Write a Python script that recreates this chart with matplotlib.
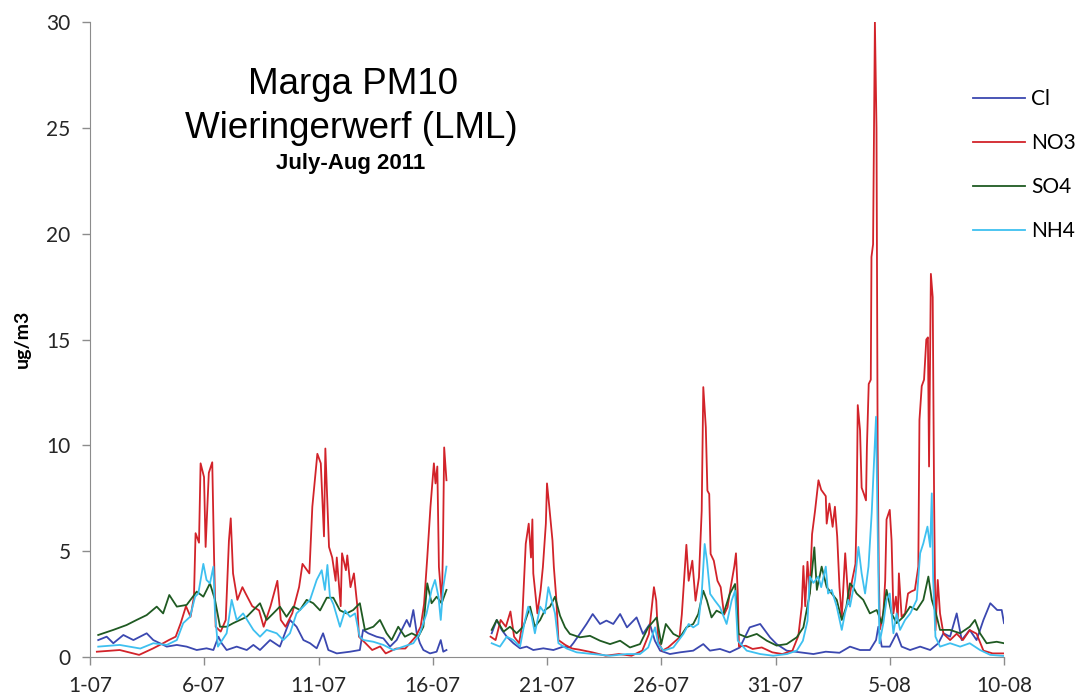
import numpy as np
import matplotlib
matplotlib.use("Agg")
import matplotlib.pyplot as plt

# days since 1 July 2011, nan marks the gap in the record
no3_t = [0.3, 1.3, 2.15, 2.75, 3.2, 3.45, 3.75, 3.97, 4.2, 4.4, 4.55, 4.62, 4.77, 4.84, 4.99, 5.06, 5.2, 5.35,
         5.43, 5.5, 5.72, 5.94, 6.08, 6.16, 6.26, 6.45, 6.67, 6.81, 7.1, 7.4, 7.6, 7.9, 8.2, 8.35, 8.56, 8.85,
         9.15, 9.3, 9.6, 9.73, 9.95, 10.1, 10.24, 10.3, 10.46, 10.6, 10.75, 10.8, 10.97, 11.03, 11.2, 11.26,
         11.4, 11.55, 11.7, 11.77, 12.06, 12.35, 12.7, 12.94, 13.4, 13.8, 14.25, 14.47, 14.62, 14.76, 14.9,
         15.05, 15.12, 15.2, 15.27, 15.4, 15.45, 15.5, 15.6, 16.5,
         17.53, 17.75, 17.97, 18.2, 18.4, 18.56, 18.78, 18.9, 19.07, 19.2, 19.3, 19.36, 19.4, 19.58, 19.72,
         19.82, 19.95, 20.0, 20.1, 20.24, 20.3, 20.4, 20.5, 20.8, 21.1, 21.4, 21.98, 22.57, 23.15, 23.7, 24.17,
         24.46, 24.6, 24.68, 24.78, 24.87, 25.05, 25.3, 25.8, 25.9, 26.1, 26.2, 26.36, 26.5, 26.65, 26.77,
         26.84, 26.95, 27.02, 27.1, 27.16, 27.3, 27.46, 27.6, 27.75, 27.9, 28.04, 28.2, 28.27, 28.35, 28.4,
         28.7, 29.0, 29.4, 29.86, 30.3, 30.74, 31.0, 31.15, 31.22, 31.3, 31.4, 31.5, 31.6, 31.73, 31.88, 32.0,
         32.2, 32.24, 32.36, 32.5, 32.6, 32.7, 32.8, 32.9, 33.05, 33.2, 33.35, 33.5, 33.55, 33.6, 33.7, 33.77,
         33.87, 33.96, 34.0, 34.08, 34.17, 34.2, 34.27, 34.35, 34.42, 34.47, 34.52, 34.57, 34.72, 34.8, 34.86,
         35.0, 35.08, 35.16, 35.27, 35.35, 35.4, 35.52, 35.67, 35.8, 35.95, 36.1, 36.25, 36.3, 36.4, 36.5,
         36.6, 36.67, 36.72, 36.8, 36.88, 36.94, 37.0, 37.1, 37.2, 37.35, 37.64, 37.93, 38.2, 38.5, 38.8,
         39.1, 39.5, 40.0]
no3_v = [0.25, 0.33, 0.1, 0.4, 0.65, 0.8, 0.96, 1.6, 2.4, 1.9, 2.85, 5.85, 5.4, 9.15, 8.5, 5.2, 8.7, 9.2,
         4.7, 1.43, 1.2, 1.75, 5.5, 6.55, 3.95, 2.7, 3.3, 3.0, 2.4, 2.2, 1.43, 2.4, 3.6, 1.75, 1.43, 2.06,
         3.3, 4.4, 3.95, 7.1, 9.6, 9.15, 5.7, 9.85, 5.2, 4.7, 3.6, 4.7, 2.4, 4.9, 4.1, 4.8,
         3.3, 3.95, 2.4, 0.96, 0.65, 0.33, 0.5, 0.17, 0.4, 0.4, 0.96, 1.43, 2.5, 4.7, 7.1,
         9.15, 8.2, 9.0, 4.25, 2.5, 5.5, 9.9, 8.35, np.nan,
         0.96, 0.8, 1.75, 1.43, 2.15, 0.96, 0.65, 1.43, 5.35, 6.3, 4.7, 6.5, 3.95, 2.06, 3.15,
         4.25, 6.3, 8.2, 7.1, 5.5, 4.25, 2.85, 0.8, 0.57, 0.4, 0.35, 0.22, 0.06, 0.14, 0.06, 0.3,
         1.08, 2.5, 3.3, 2.66, 0.77, 0.3, 0.45, 0.93, 2.0, 5.3, 3.6, 4.55, 2.66, 3.76, 6.9,
         12.75, 10.85, 7.86, 7.7, 4.87, 4.55, 3.6, 3.3, 2.0, 2.35, 3.3, 4.3, 4.9, 3.0, 0.5,
         0.53, 0.38, 0.45, 0.22, 0.14, 0.3, 1.0, 2.4, 4.3, 2.4, 4.5, 3.0, 5.8, 6.9, 8.35, 7.9,
         7.6, 6.3, 7.25, 6.15, 7.1, 5.7, 3.3, 1.9, 4.9, 2.5, 3.6, 4.4, 6.8, 11.9, 10.7, 8.0,
         7.7, 7.4, 9.9, 12.9, 13.1, 18.9, 19.5, 30.0, 25.0, 10.0, 4.0, 1.3, 2.06, 3.6, 6.5,
         6.95, 5.5, 2.06, 2.85, 1.73, 3.95, 1.9, 2.06, 3.0, 3.1, 3.17, 4.27, 11.2, 12.8, 13.1,
         15.0, 15.1, 9.0, 18.1, 17.0, 7.6, 1.26, 3.64, 2.06, 1.1, 0.8, 1.1, 0.8, 1.27, 1.1,
         0.3, 0.17, 0.17]

nh4_t = [0.36, 1.3, 2.2, 2.77, 3.36, 3.8, 4.08, 4.38, 4.6, 4.74, 4.96, 5.1, 5.25, 5.4, 5.47, 5.6, 5.98, 6.2,
         6.42, 6.7, 7.15, 7.44, 7.73, 8.17, 8.46, 8.75, 9.04, 9.34, 9.63, 9.92, 10.14, 10.28, 10.39, 10.5,
         10.65, 10.94, 11.16, 11.38, 11.6, 11.8, 11.97, 12.4, 12.84, 13.28, 13.71, 14.15, 14.44, 14.73, 14.95,
         15.1, 15.25, 15.35, 15.46, 15.6, 16.5,
         17.58, 17.94, 18.24, 18.53, 18.82, 19.04, 19.18, 19.33, 19.47, 19.7, 19.91, 20.06, 20.2, 20.35, 20.5,
         20.86, 21.3, 22.0, 22.76, 23.5, 24.07, 24.43, 24.73, 24.87, 25.1, 25.53, 25.97, 26.2, 26.4, 26.62,
         26.77, 26.9, 27.0, 27.14, 27.35, 27.57, 27.86, 28.08, 28.23, 28.35, 28.74, 29.33, 29.9, 30.5, 30.93,
         31.2, 31.4, 31.5, 31.66, 31.87, 32.0, 32.2, 32.3, 32.46, 32.68, 32.9, 33.04, 33.19, 33.26, 33.48,
         33.63, 33.77, 33.92, 34.07, 34.21, 34.31, 34.4, 34.46, 34.55, 34.72, 34.86, 35.0, 35.16, 35.3, 35.45,
         35.67, 35.9, 36.18, 36.33, 36.47, 36.65, 36.77, 36.84, 36.9, 37.0, 37.2, 37.64, 38.08, 38.5, 38.95,
         39.4, 40.0]
nh4_v = [0.49, 0.57, 0.4, 0.65, 0.57, 0.8, 1.6, 1.9, 2.85, 3.0, 4.4, 3.64, 3.48, 4.27, 2.06, 0.49, 1.12, 2.7,
         1.75, 2.06, 1.28, 0.96, 1.28, 1.12, 0.8, 1.12, 2.06, 2.38, 2.7, 3.64, 4.1, 3.17, 4.35, 2.85,
         2.5, 1.43, 2.2, 1.9, 2.06, 0.96, 0.8, 0.72, 0.57, 0.33, 0.49, 0.65, 1.12, 2.06, 3.17,
         3.64, 2.85, 1.75, 3.3, 4.27, np.nan,
         0.65, 0.49, 0.96, 0.8, 0.49, 1.75, 2.38, 1.9, 1.12, 2.38, 2.06, 3.3, 2.7, 2.06, 0.65,
         0.4, 0.22, 0.14, 0.06, 0.14, 0.14, 0.45, 1.4, 0.61, 0.3, 0.45, 1.09, 1.56, 1.4, 1.56,
         2.98, 5.34, 4.55, 2.98, 2.66, 2.35, 1.56, 2.66, 3.13, 0.77, 0.3, 0.14, 0.06, 0.14, 0.3,
         0.77, 1.7, 3.8, 3.5, 3.8, 3.3, 4.27, 3.0, 3.17, 2.38, 1.28, 2.06, 2.7, 2.38, 3.64,
         5.2, 3.95, 3.0, 4.27, 6.8, 9.15, 11.35, 6.8, 0.65, 1.6, 2.7, 3.0, 1.12, 2.06, 1.28,
         1.75, 2.06, 2.7, 4.9, 5.37, 6.16, 5.2, 7.73, 3.64, 0.96, 0.49, 0.65, 0.49, 0.65, 0.33,
         0.1, 0.05]

so4_t = [0.36, 1.02, 1.6, 2.04, 2.48, 2.92, 3.2, 3.47, 3.8, 4.23, 4.67, 4.96, 5.25, 5.47, 5.69, 5.98, 6.27,
         6.56, 6.86, 7.15, 7.44, 7.73, 8.02, 8.31, 8.6, 8.9, 9.19, 9.48, 9.77, 10.07, 10.36, 10.65, 10.94,
         11.23, 11.52, 11.81, 12.03, 12.4, 12.69, 12.98, 13.2, 13.49, 13.78, 14.08, 14.37, 14.59, 14.76,
         14.95, 15.17, 15.39, 15.6, 16.5,
         17.58, 17.8, 18.1, 18.38, 18.67, 18.96, 19.26, 19.47, 19.7, 19.91, 20.13, 20.35, 20.57, 20.79, 21.0,
         21.44, 21.88, 22.32, 22.76, 23.2, 23.63, 24.07, 24.43, 24.8, 25.0, 25.2, 25.53, 25.82, 26.1, 26.4,
         26.62, 26.84, 27.0, 27.2, 27.42, 27.72, 28.0, 28.23, 28.38, 28.74, 29.18, 29.62, 30.05, 30.49, 30.93,
         31.22, 31.5, 31.7, 31.81, 32.02, 32.24, 32.46, 32.68, 32.9, 33.1, 33.26, 33.4, 33.55, 33.84, 34.13,
         34.43, 34.65, 34.86, 35.08, 35.3, 35.6, 35.89, 36.18, 36.47, 36.69, 36.84, 37.02, 37.2, 37.64, 38.08,
         38.5, 38.73, 38.95, 39.24, 39.68, 40.0]
so4_v = [1.04, 1.28, 1.51, 1.75, 1.98, 2.38, 2.06, 2.93, 2.38, 2.46, 3.09, 2.85, 3.48, 2.7, 1.43, 1.43, 1.6,
         1.75, 1.9, 2.22, 2.54, 1.75, 2.06, 2.38, 1.9, 2.38, 2.22, 2.7, 2.54, 2.2, 2.8, 2.8, 2.2,
         2.06, 2.22, 2.54, 1.28, 1.43, 1.75, 1.12, 0.8, 1.43, 0.96, 1.12, 0.96, 1.43, 3.48,
         2.54, 2.85, 2.54, 3.17, np.nan,
         1.28, 1.75, 1.2, 1.43, 1.12, 1.43, 2.38, 1.43, 1.75, 2.22, 2.38, 2.85, 1.95, 1.4, 1.09,
         0.93, 1.0, 0.77, 0.61, 0.77, 0.45, 0.61, 1.4, 1.87, 0.61, 1.56, 1.09, 0.93, 1.4, 1.56,
         2.03, 3.13, 2.66, 1.87, 2.19, 2.03, 2.98, 3.45, 1.09, 0.93, 1.09, 0.77, 0.54, 0.61, 0.93,
         1.4, 2.98, 5.18, 3.17, 4.27, 3.3, 3.0, 2.7, 1.75, 2.38, 3.48, 3.3, 3.0, 2.7, 2.06,
         2.22, 1.6, 3.17, 2.06, 1.6, 1.9, 2.38, 2.22, 2.7, 3.8, 2.7, 2.06, 1.28, 1.28, 1.12,
         1.43, 1.75, 1.12, 0.65, 0.72, 0.65]

cl_t = [0.36, 0.73, 1.02, 1.46, 1.9, 2.48, 2.77, 3.06, 3.36, 3.8, 4.23, 4.67, 5.1, 5.4, 5.62, 5.76, 5.98, 6.42,
        6.86, 7.15, 7.44, 7.88, 8.31, 8.75, 9.04, 9.34, 9.63, 9.92, 10.2, 10.43, 10.8, 11.38, 11.81, 11.95,
        12.18, 12.54, 12.84, 13.13, 13.42, 13.71, 13.86, 14.0, 14.15, 14.3, 14.44, 14.59, 14.88, 15.17, 15.35,
        15.46, 15.6, 16.5,
        17.58, 17.8, 18.02, 18.24, 18.53, 18.82, 19.11, 19.4, 19.84, 20.28, 20.71, 21.0, 21.15, 21.44, 21.73,
        22.0, 22.32, 22.6, 22.9, 23.2, 23.5, 23.92, 24.2, 24.5, 24.72, 24.95, 25.38, 25.82, 26.4, 26.84,
        27.13, 27.57, 28.0, 28.44, 28.87, 29.33, 29.76, 30.05, 30.49, 31.08, 31.66, 32.2, 32.8, 33.26, 33.7,
        34.13, 34.4, 34.5, 34.65, 35.0, 35.3, 35.52, 35.89, 36.33, 36.77, 37.13, 37.35, 37.64, 37.93, 38.15,
        38.5, 38.8, 39.1, 39.4, 39.7, 39.9, 40.0]
cl_v = [0.8, 0.96, 0.65, 1.04, 0.8, 1.12, 0.8, 0.65, 0.49, 0.57, 0.49, 0.33, 0.41, 0.33, 0.96, 0.65, 0.33, 0.49,
        0.33, 0.57, 0.33, 0.8, 0.49, 1.75, 1.43, 0.8, 0.65, 0.41, 1.12, 0.33, 0.17, 0.25, 0.33, 1.28,
        1.12, 0.96, 0.88, 0.49, 0.8, 1.43, 1.75, 1.43, 2.22, 1.12, 0.65, 0.33, 0.17, 0.25, 0.8,
        0.25, 0.33, np.nan,
        1.12, 1.75, 1.28, 0.96, 0.65, 0.41, 0.49, 0.33, 0.41, 0.33, 0.49, 0.45, 0.65, 1.1, 1.56,
        2.03, 1.56, 1.72, 1.56, 2.03, 1.4, 1.87, 1.09, 1.56, 0.77, 0.3, 0.14, 0.22, 0.3, 0.61,
        0.3, 0.38, 0.22, 0.45, 1.4, 1.56, 0.93, 0.61, 0.3, 0.22, 0.14, 0.25, 0.2, 0.49, 0.33,
        0.33, 0.8, 1.43, 0.49, 0.49, 1.12, 0.49, 0.33, 0.49, 0.33, 0.65, 1.12, 0.96, 2.06, 0.8,
        1.28, 0.8, 1.75, 2.54, 2.22, 2.22, 1.6]

tick_days = [0, 5, 10, 15, 20, 25, 30, 35, 40]
tick_labels = ["1-07", "6-07", "11-07", "16-07", "21-07", "26-07", "31-07", "5-08", "10-08"]

fig = plt.figure(figsize=(10.8, 6.97), dpi=100)
ax = fig.add_axes([90 / 1080, 40 / 697, 914 / 1080, 635 / 697])

ax.plot(cl_t, cl_v, color="#3b48b0", lw=1.3, label="Cl")
ax.plot(no3_t, no3_v, color="#d2232a", lw=1.3, label="NO3")
ax.plot(so4_t, so4_v, color="#1f5a22", lw=1.3, label="SO4")
ax.plot(nh4_t, nh4_v, color="#3ec0f0", lw=1.3, label="NH4")

ax.set_xlim(0, 40)
ax.set_ylim(0, 30)
ax.set_xticks(tick_days)
ax.set_xticklabels(tick_labels)
ax.set_yticks(range(0, 31, 5))
for s in ["top", "right"]:
    ax.spines[s].set_visible(False)
for s in ["left", "bottom"]:
    ax.spines[s].set_color("#8c8c8c")
ax.tick_params(colors="#8c8c8c", length=6, width=1, labelcolor="#262626", labelsize=15, pad=8)
for lab in ax.get_xticklabels() + ax.get_yticklabels():
    lab.set_family("Lato")

fig.text(22 / 1080, 1 - 339 / 697, "ug/m3", rotation=90, ha="center", va="center",
         fontsize=14, fontweight="bold", family="Lato")

fig.text(353 / 1080, 1 - 84 / 697, "Marga PM10", ha="center", va="center",
         fontsize=26.5, family="Liberation Sans")
fig.text(351 / 1080, 1 - 128 / 697, "Wieringerwerf (LML)", ha="center", va="center",
         fontsize=26.5, family="Liberation Sans")
fig.text(351 / 1080, 1 - 164 / 697, "July-Aug 2011", ha="center", va="center",
         fontsize=16, fontweight="bold", family="Liberation Sans")

ax.legend(loc="upper left", bbox_to_anchor=(973 / 1080, 1 - 89 / 697), bbox_transform=fig.transFigure,
          frameon=False, borderpad=0, borderaxespad=0, handlelength=2.5, handletextpad=0.3,
          labelspacing=1.15, prop={"family": "Lato", "size": 15})

fig.savefig("out.png", dpi=100)
